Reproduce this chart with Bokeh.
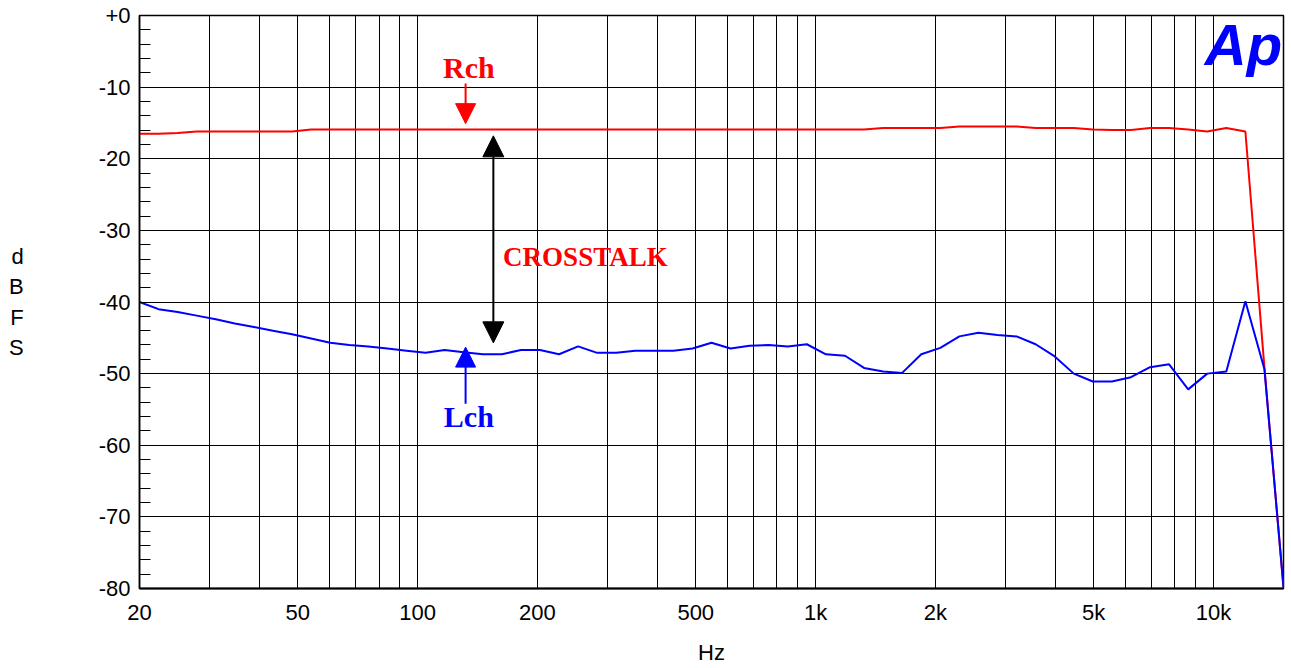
from bokeh.plotting import figure
from bokeh.models import Range1d, FixedTicker, Arrow, NormalHead, Label
from bokeh.embed import file_html
from bokeh.resources import INLINE

# Sweep frequencies (Hz), 1/6-octave-ish steps from 20 Hz to 15 kHz
freq_hz = [20, 22.33, 24.94, 27.85, 31.10, 34.73, 38.78, 43.30, 48.35, 53.99,
           60.29, 67.33, 75.18, 83.95, 93.75, 104.7, 116.9, 130.5, 145.8, 162.8,
           181.8, 203.0, 226.7, 253.1, 282.6, 315.6, 352.4, 393.5, 439.4, 490.7,
           547.7, 611.6, 682.9, 762.6, 851.6, 950.9, 1062, 1186, 1324, 1479,
           1651, 1844, 2059, 2299, 2567, 2866, 3201, 3574, 3991, 4457,
           4977, 5557, 6206, 6930, 7738, 8641, 9649, 10774, 12031, 13434,
           15000]

# Driven channel level (dBFS)
rch_dbfs = [-16.5, -16.5, -16.4, -16.2, -16.2, -16.2, -16.2, -16.2, -16.2, -15.9,
            -15.9, -15.9, -15.9, -15.9, -15.9, -15.9, -15.9, -15.9, -15.9, -15.9,
            -15.9, -15.9, -15.9, -15.9, -15.9, -15.9, -15.9, -15.9, -15.9, -15.9,
            -15.9, -15.9, -15.9, -15.9, -15.9, -15.9, -15.9, -15.9, -15.9, -15.7,
            -15.7, -15.7, -15.7, -15.5, -15.5, -15.5, -15.5, -15.7, -15.7, -15.7,
            -15.9, -16.0, -16.0, -15.7, -15.7, -15.9, -16.2, -15.7, -16.2, -49.2,
            -79.9]

# Undriven channel (crosstalk) level (dBFS)
lch_dbfs = [-40.0, -41.0, -41.4, -41.9, -42.4, -43.0, -43.5, -44.0, -44.5, -45.1,
            -45.7, -46.0, -46.2, -46.5, -46.8, -47.1, -46.7, -47.0, -47.3, -47.3,
            -46.7, -46.7, -47.3, -46.2, -47.1, -47.1, -46.8, -46.8, -46.8, -46.5,
            -45.7, -46.5, -46.1, -46.0, -46.2, -45.9, -47.3, -47.5, -49.2, -49.7,
            -49.9, -47.3, -46.4, -44.8, -44.3, -44.6, -44.8, -45.9, -47.6, -50.0,
            -51.1, -51.1, -50.5, -49.1, -48.7, -52.2, -50.0, -49.7, -39.9, -49.4,
            -79.8]

x_tick_values = [20, 50, 100, 200, 500, 1000, 2000, 5000, 10000]
x_tick_labels = ["20", "50", "100", "200", "500", "1k", "2k", "5k", "10k"]
y_tick_values = [0, -10, -20, -30, -40, -50, -60, -70, -80]
y_tick_labels = ["+0", "-10", "-20", "-30", "-40", "-50", "-60", "-70", "-80"]

p = figure(width=1291, height=668, x_axis_type="log",
           x_range=Range1d(20, 15000), y_range=Range1d(-80, 0),
           output_backend="svg", toolbar_location=None,
           min_border_left=139, min_border_right=8,
           min_border_top=15, min_border_bottom=80)

p.background_fill_color = "white"
p.border_fill_color = "white"
p.outline_line_color = "black"
p.outline_line_width = 1.5

# grid: every 1-2-3...9 multiple on the log axis, every 10 dB vertically
grid_freqs = [m * 10 ** e for e in range(1, 5) for m in range(1, 10)
              if 20 <= m * 10 ** e <= 15000]
p.xgrid.ticker = FixedTicker(ticks=grid_freqs)
p.ygrid.ticker = FixedTicker(ticks=y_tick_values)
for g in (p.xgrid, p.ygrid):
    g.grid_line_color = "black"
    g.grid_line_width = 1
    g.grid_line_alpha = 1.0

tick_font = "Liberation Sans"

xa = p.xaxis[0]
xa.ticker = FixedTicker(ticks=x_tick_values)
xa.major_label_overrides = {v: s for v, s in zip(x_tick_values, x_tick_labels)}
xa.major_tick_in = 0
xa.major_tick_out = 0
xa.minor_tick_in = 0
xa.minor_tick_out = 0
xa.axis_line_color = "black"
xa.axis_line_width = 2
xa.major_label_text_font = tick_font
xa.major_label_text_font_size = "22px"
xa.major_label_text_color = "black"
xa.major_label_standoff = 11
xa.axis_label = "Hz"
xa.axis_label_text_font = tick_font
xa.axis_label_text_font_size = "22px"
xa.axis_label_text_font_style = "normal"
xa.axis_label_text_color = "black"
xa.axis_label_standoff = 12

ya = p.yaxis[0]
ya.ticker = FixedTicker(ticks=y_tick_values, minor_ticks=list(range(-80, 1, 2)))
ya.major_label_overrides = {v: s for v, s in zip(y_tick_values, y_tick_labels)}
ya.major_tick_in = 11
ya.major_tick_out = 0
ya.minor_tick_in = 11
ya.minor_tick_out = 0
ya.major_tick_line_color = "black"
ya.minor_tick_line_color = "black"
ya.axis_line_color = "black"
ya.axis_line_width = 1.5
ya.major_label_text_font = tick_font
ya.major_label_text_font_size = "22px"
ya.major_label_text_color = "black"
ya.major_label_standoff = 9
ya.axis_label = "d\nB\nF\nS"
ya.axis_label_orientation = "horizontal"
ya.axis_label_text_font = tick_font
ya.axis_label_text_font_size = "22px"
ya.axis_label_text_font_style = "normal"
ya.axis_label_text_color = "black"
ya.axis_label_text_line_height = 1.22
ya.axis_label_standoff = 72

p.line(freq_hz, rch_dbfs, line_color="#FF0000", line_width=2)
p.line(freq_hz, lch_dbfs, line_color="#0000FF", line_width=2)

serif = "Liberation Serif"

# Rch marker
p.add_layout(Label(x=134.5, y=-7.2, text="Rch", text_align="center",
                   text_baseline="alphabetic", text_font=serif,
                   text_font_style="bold", text_font_size="30px",
                   text_color="#FF0000"))
p.add_layout(Arrow(end=NormalHead(size=20, fill_color="#FF0000", line_color="#FF0000"),
                   x_start=132, y_start=-9.5, x_end=132, y_end=-15.1,
                   line_color="#FF0000", line_width=2))

# Lch marker
p.add_layout(Arrow(end=NormalHead(size=20, fill_color="#0000FF", line_color="#0000FF"),
                   x_start=132, y_start=-54.2, x_end=132, y_end=-46.3,
                   line_color="#0000FF", line_width=2))
p.add_layout(Label(x=134.5, y=-56.0, text="Lch", text_align="center",
                   text_baseline="alphabetic", text_font=serif,
                   text_font_style="bold", text_font_size="30px",
                   text_color="#0000FF"))

# crosstalk span
p.add_layout(Arrow(start=NormalHead(size=21, fill_color="black", line_color="black"),
                   end=NormalHead(size=21, fill_color="black", line_color="black"),
                   x_start=155, y_start=-45.7, x_end=155, y_end=-16.8,
                   line_color="black", line_width=2))
p.add_layout(Label(x=164, y=-33.7, text="CROSSTALK", text_align="left",
                   text_baseline="alphabetic", text_font=serif,
                   text_font_style="bold", text_font_size="27px",
                   text_color="#FF0000"))

# analyzer logo
p.add_layout(Label(x=11900, y=-4.0, text="Ap", text_align="center",
                   text_baseline="alphabetic", text_font="Liberation Sans",
                   text_font_style="bold italic", text_font_size="58px",
                   text_color="#0000FF"))

open("out.html", "w").write(file_html(p, INLINE))
